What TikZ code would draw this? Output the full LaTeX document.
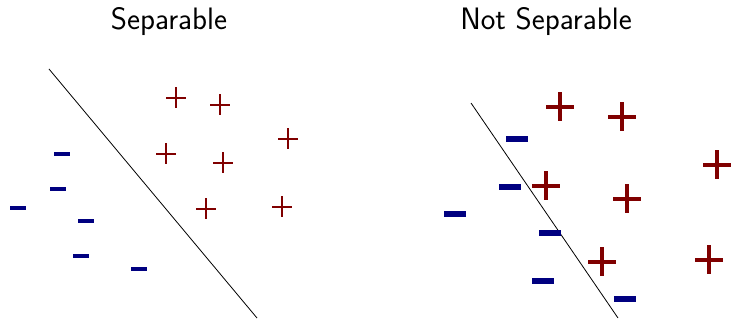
\documentclass[tikz,border=0pt]{standalone}
\usepackage{tikz}
\usetikzlibrary{positioning}

\definecolor{posred}{RGB}{128,0,0}
\definecolor{negblue}{RGB}{0,0,128}

\begin{document}
\begin{tikzpicture}[
  x=1pt,y=-1pt,
  title/.style={font=\fontsize{31}{36}\selectfont\sffamily, inner sep=0pt},
  sep/.style={draw=black, line width=0.8pt},
  possmall/.style={draw=posred, line width=2.8pt},
  posbig/.style={draw=posred, line width=3.6pt},
]
\useasboundingbox (0,0) rectangle (731,320);
% titles
\node[title] (tl) at (169,22) {Separable};
\node[title] (tr) at (546,22) {Not Separable};
% separable
\coordinate (la) at (49,69);
\coordinate (lb) at (257,318);
\draw[sep] (la) -- (lb);
\foreach \x/\y in {176/98,220/105,288/139,166/154,223/163,206/209,282/207}
  {\draw[possmall] (\x-10,\y) -- (\x+10,\y) (\x,\y-10.5) -- (\x,\y+10.5);}
\foreach \x/\y in {62/154,58/189,18/208,86/221,81/256,139/269}
  {\fill[negblue] (\x-8,\y-2) rectangle (\x+8,\y+2);}
% not separable
\coordinate (ra) at (471,103);
\coordinate (rb) at (618,318);
\draw[sep] (ra) -- (rb);
\foreach \x/\y in {560/107,622/117,717/165,546/186,627/199,602/262,709/260}
  {\draw[posbig] (\x-14,\y) -- (\x+14,\y) (\x,\y-14.5) -- (\x,\y+14.5);}
\foreach \x/\y in {517/139,510/187,455/214,550/233,543/281,625/299}
  {\fill[negblue] (\x-11,\y-3) rectangle (\x+11,\y+3);}
\end{tikzpicture}
\end{document}
